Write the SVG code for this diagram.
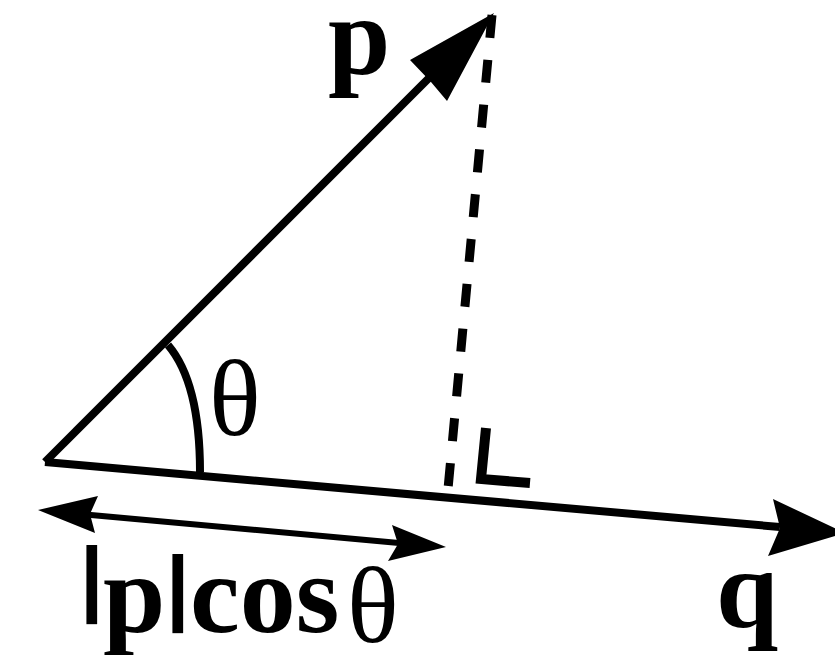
<svg xmlns="http://www.w3.org/2000/svg" width="835" height="655" viewBox="0 0 835 655">
<style>
.ln{stroke:#000;fill:none;stroke-linecap:butt;stroke-linejoin:miter}
.hd{fill:#000;stroke:none}
.b{font-family:"Liberation Serif","Times New Roman",serif;font-weight:bold;font-size:112px;fill:#000}
.g{font-family:"Liberation Serif","Times New Roman",serif;font-weight:normal;font-size:108px;fill:#000}
.bar{font-family:"Liberation Sans",Arial,sans-serif;font-weight:bold;font-size:84px}
</style>
<rect width="835" height="655" fill="#fff"/>
<g id="connectors">
  <!-- vector p -->
  <line class="ln" x1="45" y1="462" x2="436" y2="71" stroke-width="8"/>
  <polygon class="hd" points="494,13 410,60 431,82 447,101"/>
  <!-- vector q -->
  <line class="ln" x1="45" y1="462" x2="780" y2="527" stroke-width="8"/>
  <polygon class="hd" points="845,533 773,499 780,528 768,556"/>
  <!-- projection dashed -->
  <line class="ln" x1="492" y1="15" x2="448" y2="489" stroke-width="9" stroke-dasharray="23 22"/>
  <!-- angle arc -->
  <path class="ln" d="M 168 345 C 185 365, 200 400, 200 472" stroke-width="8"/>
  <!-- right-angle mark -->
  <path class="ln" d="M 486 428 L 481 479 L 530 483" stroke-width="10"/>
  <!-- double arrow |p|cos -->
  <line class="ln" x1="80" y1="514" x2="410" y2="544" stroke-width="6"/>
  <polygon class="hd" points="38,510 98,496 90,514 95,533"/>
  <polygon class="hd" points="446,547 392,525 398,544 388,561"/>
</g>
<g id="label-p"><text class="b" x="328" y="74">p</text></g>
<g id="label-q"><text class="b" x="716" y="627">q</text></g>
<g id="label-theta"><text class="g" x="209" y="435">θ</text></g>
<g id="label-proj">
  <text class="b"><tspan class="bar" x="80" y="606">|</tspan><tspan x="103" y="632">p</tspan><tspan class="bar" x="166" y="615">|</tspan><tspan x="190" y="632">cos</tspan><tspan class="g" x="347" y="642">θ</tspan></text>
</g>
</svg>
